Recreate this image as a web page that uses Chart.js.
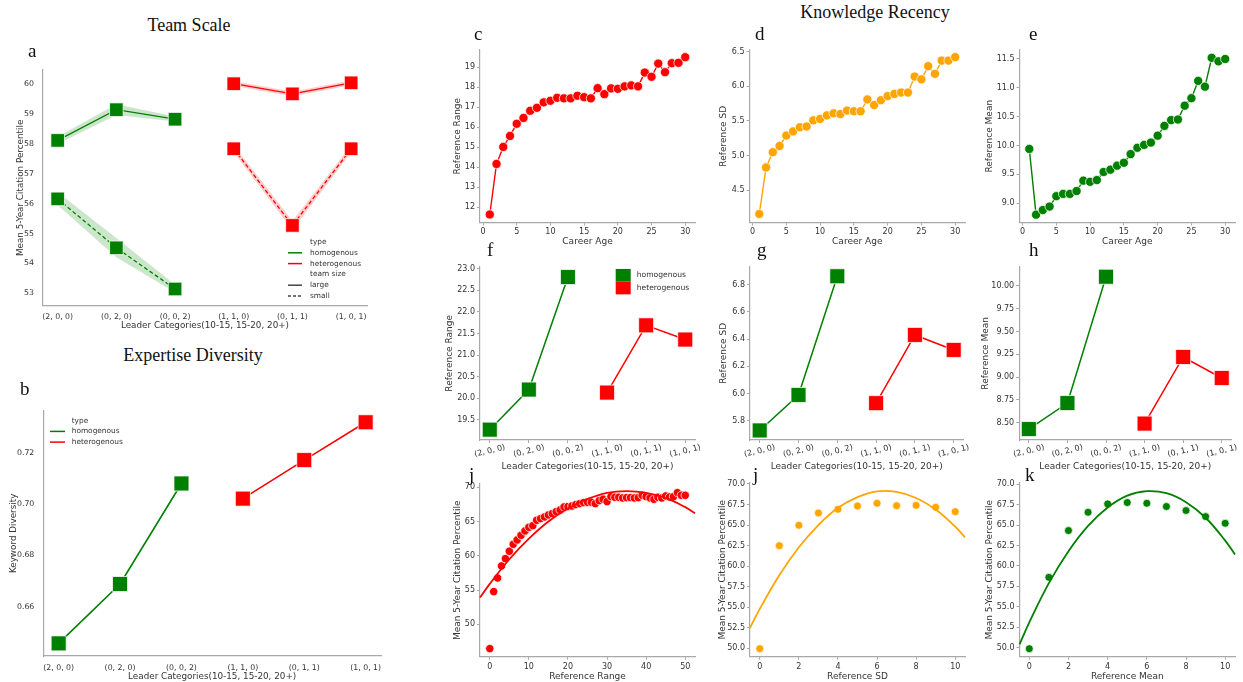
<!DOCTYPE html>
<html>
<head>
<meta charset="utf-8">
<script src="https://cdn.jsdelivr.net/npm/chart.js@4.4.1/dist/chart.umd.min.js"></script>
<style>
  html, body { margin: 0; padding: 0; background: #fff; width: 1243px; height: 682px; overflow: hidden; }
  #page { position: relative; width: 1243px; height: 682px; }
  canvas { position: absolute; }
  .head { position: absolute; font-family: 'Liberation Serif', 'DejaVu Serif', serif; font-size: 18px; line-height: 18px; color: #111; white-space: nowrap; }
  .tag { position: absolute; font-family: 'Liberation Serif', 'DejaVu Serif', serif; font-size: 19px; line-height: 19px; color: #111; }
</style>
</head>
<body>
<div id="page"></div>
<script>
// ---------------- data ----------------
const leaderCats = ['(2, 0, 0)', '(0, 2, 0)', '(0, 0, 2)', '(1, 1, 0)', '(0, 1, 1)', '(1, 0, 1)'];
const homX = [0, 1, 2];
const hetX = [3, 4, 5];

// a: team scale
const aHomLarge = [58.12, 59.15, 58.83];
const aHomLargeLo = [58.00, 58.97, 58.75];
const aHomLargeHi = [58.24, 59.33, 58.92];
const aHomSmall = [56.16, 54.52, 53.14];
const aHomSmallLo = [55.95, 54.20, 53.02];
const aHomSmallHi = [56.38, 54.85, 53.28];
const aHetLarge = [60.02, 59.68, 60.05];
const aHetLargeLo = [59.94, 59.60, 59.97];
const aHetLargeHi = [60.10, 59.76, 60.13];
const aHetSmall = [57.84, 55.27, 57.84];
const aHetSmallLo = [57.72, 55.12, 57.72];
const aHetSmallHi = [57.96, 55.42, 57.96];

// b: expertise diversity
const bHom = [0.6458, 0.6689, 0.7080];
const bHet = [0.7021, 0.7171, 0.7318];

// c, d, e: knowledge recency by career age
const careerAge = [1, 2, 3, 4, 5, 6, 7, 8, 9, 10, 11, 12, 13, 14, 15, 16, 17, 18, 19, 20, 21, 22, 23, 24, 25, 26, 27, 28, 29, 30];
const cRange = [11.63, 14.16, 15.01, 15.56, 16.17, 16.46, 16.82, 16.97, 17.24, 17.32, 17.47, 17.44, 17.44, 17.57, 17.50, 17.44, 17.95, 17.65, 17.94, 17.92, 18.04, 18.09, 18.04, 18.73, 18.52, 19.18, 18.75, 19.20, 19.22, 19.50];
const dSD = [4.16, 4.83, 5.05, 5.14, 5.29, 5.35, 5.41, 5.42, 5.51, 5.53, 5.58, 5.61, 5.60, 5.65, 5.64, 5.64, 5.81, 5.73, 5.80, 5.86, 5.89, 5.91, 5.91, 6.14, 6.10, 6.29, 6.18, 6.37, 6.37, 6.42];
const eMean = [9.94, 8.80, 8.88, 8.94, 9.12, 9.16, 9.16, 9.21, 9.39, 9.37, 9.40, 9.54, 9.58, 9.65, 9.70, 9.85, 9.96, 10.01, 10.05, 10.17, 10.34, 10.44, 10.45, 10.69, 10.82, 11.12, 11.02, 11.52, 11.46, 11.50];

// f, g, h: reference stats by leader category
const fHom = [19.27, 20.20, 22.81];
const fHet = [20.13, 21.69, 21.36];
const gHom = [5.73, 5.99, 6.86];
const gHet = [5.93, 6.43, 6.32];
const hHom = [8.43, 8.715, 10.10];
const hHet = [8.49, 9.22, 8.99];

// i, j, k: citation percentile vs reference stats
const iRange = [0, 1, 2, 3, 4, 5, 6, 7, 8, 9, 10, 11, 12, 13, 14, 15, 16, 17, 18, 19, 20, 21, 22, 23, 24, 25, 26, 27, 28, 29, 30, 31, 32, 33, 34, 35, 36, 37, 38, 39, 40, 41, 42, 43, 44, 45, 46, 47, 48, 49, 50];
const iCite = [46.45, 54.77, 56.76, 58.52, 59.59, 60.66, 61.68, 62.31, 62.99, 63.63, 64.16, 64.40, 65.18, 65.43, 65.67, 65.96, 66.16, 66.45, 66.69, 67.13, 67.18, 67.27, 67.47, 67.62, 67.76, 67.81, 67.81, 67.62, 68.05, 68.25, 67.91, 68.64, 68.54, 68.54, 68.44, 68.49, 68.49, 68.44, 68.49, 68.83, 68.64, 68.44, 68.25, 68.54, 68.44, 68.73, 68.59, 68.64, 69.22, 68.83, 68.83];
const iFitX = [-2.5, 0, 5, 10, 15, 20, 25, 30, 35, 40, 45, 50, 52.5];
const iFitY = [53.9, 55.9, 59.5, 62.5, 65.0, 66.9, 68.3, 69.2, 69.45, 69.2, 68.45, 67.1, 66.2];
const sdX = [0, 1, 2, 3, 4, 5, 6, 7, 8, 9, 10];
const jCite = [49.96, 62.49, 64.97, 66.47, 66.92, 67.32, 67.65, 67.36, 67.40, 67.16, 66.63];
const jFitX = [-0.5, 0, 1, 2, 3, 4, 5, 6, 7, 8, 9, 10, 10.5];
const jFitY = [52.5, 54.8, 58.9, 62.3, 65.0, 67.1, 68.4, 69.1, 69.05, 68.3, 66.9, 64.8, 63.5];
const kCite = [49.88, 58.61, 64.33, 66.57, 67.59, 67.76, 67.67, 67.27, 66.78, 66.04, 65.22];
const kFitY = [50.4, 53.1, 57.9, 61.8, 64.9, 67.15, 68.6, 69.15, 68.9, 67.8, 65.9, 63.1, 61.4];

// ---------------- style ----------------
const TXT = '#333';
const SPINE = '#a8a8a8';
const GREEN = '#008000';
const RED = '#ff0000';
const ORANGE = '#ffa500';
Chart.defaults.font.family = "'DejaVu Sans', sans-serif";
Chart.defaults.color = TXT;

const page = document.getElementById('page');

function pts(xs, ys) { return xs.map((x, i) => ({ x: x, y: ys[i] })); }

function lineSeries(xs, ys, color, o) {
  o = o || {};
  return {
    data: pts(xs, ys), borderColor: color, borderWidth: o.lw || 1.4, borderDash: o.dash || [],
    pointStyle: o.style || 'circle', pointRadius: o.r || 0,
    pointBackgroundColor: o.fill || color, pointBorderColor: 'rgba(255,255,255,0.75)', pointBorderWidth: 1,
    showLine: o.noLine ? false : true, fill: false, tension: o.tension || 0, clip: false
  };
}

function band(xs, lo, hi, color) {
  return [
    { data: pts(xs, lo), borderColor: 'rgba(0,0,0,0)', borderWidth: 0, pointRadius: 0, fill: false, clip: false },
    { data: pts(xs, hi), borderColor: 'rgba(0,0,0,0)', borderWidth: 0, pointRadius: 0, fill: '-1', backgroundColor: color, clip: false }
  ];
}

// legend drawn inside the plot area
const inlineLegend = {
  id: 'inlineLegend',
  afterDraw(chart, args, o) {
    if (!o.items) return;
    const ctx = chart.ctx;
    ctx.save();
    ctx.font = o.size + "px 'DejaVu Sans'";
    ctx.textBaseline = 'middle';
    o.items.forEach((it, i) => {
      const x = o.x - o.ox, y = o.y - o.oy + i * o.dy;
      if (it.kind === 'line') {
        ctx.strokeStyle = it.color; ctx.lineWidth = 1.5;
        ctx.setLineDash(it.dash || []);
        ctx.beginPath(); ctx.moveTo(x - o.gap - o.sw, y); ctx.lineTo(x - o.gap, y); ctx.stroke();
        ctx.setLineDash([]);
      } else if (it.kind === 'square') {
        ctx.fillStyle = it.color;
        ctx.fillRect(x - o.gap - o.sw / 2, y - o.sh / 2, o.sw, o.sh);
      }
      ctx.fillStyle = TXT;
      ctx.fillText(it.text, x, y);
    });
    ctx.restore();
  }
};

// slanted category labels under f, g, h
const tiltLabels = {
  id: 'tiltLabels',
  afterDraw(chart, args, o) {
    if (!o.labels) return;
    const ctx = chart.ctx, xs = chart.scales.x, bottom = chart.chartArea.bottom;
    ctx.save();
    ctx.font = o.size + "px 'DejaVu Sans'";
    ctx.fillStyle = TXT; ctx.textAlign = 'center'; ctx.textBaseline = 'middle';
    o.labels.forEach((lab, i) => {
      ctx.save();
      ctx.translate(xs.getPixelForValue(i), bottom + o.offset);
      ctx.rotate(-o.angle * Math.PI / 180);
      ctx.fillText(lab, 0, 0);
      ctx.restore();
    });
    ctx.restore();
  }
};
Chart.register(inlineLegend, tiltLabels);

function makeChart(p) {
  const [L, T, W, H] = p.box;
  const [l, t, r, b] = p.area;
  const lh = p.titleSize * 1.2;
  const padL = p.ytx - L - lh / 2;
  const padB = (T + H) - p.xty - lh / 2;
  const yW = l - L - padL;
  const xH = (T + H) - padB - b;
  const cv = document.createElement('canvas');
  cv.width = W; cv.height = H;
  cv.style.left = L + 'px'; cv.style.top = T + 'px';
  page.appendChild(cv);
  const axis = (a, title, fitPx) => ({
    type: 'linear', min: a.min, max: a.max,
    border: { display: true, color: SPINE, width: 1.2 },
    grid: { display: p.tickMarks, drawOnChartArea: false, drawTicks: true, tickLength: 3, color: SPINE },
    ticks: {
      display: a.show !== false, stepSize: a.step, includeBounds: false, autoSkip: false,
      maxRotation: 0, minRotation: 0, padding: a.pad, color: TXT, font: { size: p.tickSize },
      callback: a.fmt
    },
    title: { display: true, text: title, color: TXT, font: { size: p.titleSize }, padding: 0 },
    afterFit: s => { if (s.isHorizontal()) s.height = fitPx; else s.width = fitPx; }
  });
  const plugins = Object.assign({
    legend: { display: false }, tooltip: { enabled: false },
    filler: { drawTime: 'beforeDatasetsDraw', propagate: false },
    inlineLegend: {}, tiltLabels: {}
  }, p.plugins || {});
  if (plugins.inlineLegend.items) { plugins.inlineLegend.ox = L; plugins.inlineLegend.oy = T; }
  return new Chart(cv, {
    type: 'line',
    data: { datasets: p.datasets },
    options: {
      responsive: false, animation: false, events: [],
      layout: { padding: { left: padL, top: t - T, right: (L + W) - r, bottom: padB } },
      plugins: plugins,
      scales: { x: axis(p.x, p.xTitle, xH), y: axis(p.y, p.yTitle, yW) }
    }
  });
}

const catFmt = v => leaderCats[v] || '';
const fx = n => v => Number(v).toFixed(n);
const GBAND = 'rgba(0,128,0,0.2)';
const RBAND = 'rgba(255,0,0,0.2)';
const leaderTitle = 'Leader Categories(10-15, 15-20, 20+)';

// ---------- a ----------
makeChart({
  box: [0, 40, 400, 300], area: [43, 70, 367, 305.7], ytx: 20.7, xty: 325.3,
  titleSize: 8.8, tickSize: 7.8, tickMarks: false,
  x: { min: -0.25, max: 5.27, step: 1, pad: 4, fmt: catFmt },
  y: { min: 52.58, max: 60.48, step: 1, pad: 6, fmt: fx(0) },
  xTitle: leaderTitle, yTitle: 'Mean 5-Year Citation Percentile',
  datasets: [
    lineSeries(homX, aHomLarge, GREEN, { style: 'rect', r: 9.6, lw: 1.3 }),
    lineSeries(homX, aHomSmall, GREEN, { style: 'rect', r: 9.6, lw: 1.3, dash: [4, 2.5] }),
    lineSeries(hetX, aHetLarge, RED, { style: 'rect', r: 9.6, lw: 1.3 }),
    lineSeries(hetX, aHetSmall, RED, { style: 'rect', r: 9.6, lw: 1.3, dash: [4, 2.5] }),
    ...band(homX, aHomLargeLo, aHomLargeHi, GBAND),
    ...band(homX, aHomSmallLo, aHomSmallHi, GBAND),
    ...band(hetX, aHetLargeLo, aHetLargeHi, RBAND),
    ...band(hetX, aHetSmallLo, aHetSmallHi, RBAND)
  ],
  plugins: { inlineLegend: { x: 310, y: 242, dy: 10.8, size: 7.4, sw: 14, gap: 8, items: [
    { kind: 'head', text: 'type' },
    { kind: 'line', text: 'homogenous', color: GREEN },
    { kind: 'line', text: 'heterogenous', color: RED },
    { kind: 'head', text: 'team size' },
    { kind: 'line', text: 'large', color: '#444' },
    { kind: 'line', text: 'small', color: '#444', dash: [3, 2] }
  ] } }
});

// ---------- b ----------
makeChart({
  box: [0, 395, 400, 290], area: [43.3, 410.7, 381, 656], ytx: 14, xty: 677,
  titleSize: 8.8, tickSize: 7.8, tickMarks: false,
  x: { min: -0.25, max: 5.25, step: 1, pad: 4, fmt: catFmt },
  y: { min: 0.6409, max: 0.7363, step: 0.02, pad: 6, fmt: fx(2) },
  xTitle: leaderTitle, yTitle: 'Keyword Diversity',
  datasets: [
    lineSeries(homX, bHom, GREEN, { style: 'rect', r: 10.6, lw: 1.6 }),
    lineSeries(hetX, bHet, RED, { style: 'rect', r: 10.6, lw: 1.6 })
  ],
  plugins: { inlineLegend: { x: 71.7, y: 420.7, dy: 10.7, size: 7.4, sw: 15, gap: 6.7, items: [
    { kind: 'head', text: 'type' },
    { kind: 'line', text: 'homogenous', color: GREEN },
    { kind: 'line', text: 'heterogenous', color: RED }
  ] } }
});

// ---------- c, d, e ----------
const ageAxis = { min: -0.45, max: 31.45, step: 5, pad: 2, fmt: fx(0) };
makeChart({
  box: [440, 28, 270, 222], area: [480, 50, 695, 222.5], ytx: 457.3, xty: 241.7,
  titleSize: 9, tickSize: 8, tickMarks: true,
  x: ageAxis, y: { min: 11.23, max: 19.86, step: 1, pad: 2, fmt: fx(0) },
  xTitle: 'Career Age', yTitle: 'Reference Range',
  datasets: [lineSeries(careerAge, cRange, RED, { r: 4.6, lw: 1.4 })]
});
makeChart({
  box: [715, 28, 260, 222], area: [749.5, 50, 965, 222.5], ytx: 724, xty: 241.7,
  titleSize: 9, tickSize: 8, tickMarks: true,
  x: ageAxis, y: { min: 4.037, max: 6.523, step: 0.5, pad: 2, fmt: fx(1) },
  xTitle: 'Career Age', yTitle: 'Reference SD',
  datasets: [lineSeries(careerAge, dSD, ORANGE, { r: 4.6, lw: 1.4 })]
});
makeChart({
  box: [978, 28, 265, 222], area: [1019.5, 50, 1235, 222.5], ytx: 989.3, xty: 241.7,
  titleSize: 9, tickSize: 8, tickMarks: true,
  x: ageAxis, y: { min: 8.664, max: 11.656, step: 0.5, pad: 2, fmt: fx(1) },
  xTitle: 'Career Age', yTitle: 'Reference Mean',
  datasets: [lineSeries(careerAge, eMean, GREEN, { r: 4.6, lw: 1.4 })]
});

// ---------- f, g, h ----------
const catAxis = { min: -0.25, max: 5.25, step: 1, pad: 2, show: false };
const tilt = { labels: leaderCats, angle: 14, offset: 11, size: 8 };
function catPanel(box, area, ytx, yAxis, yTitle, hom, het, extra) {
  return makeChart({
    box: box, area: area, ytx: ytx, xty: 466.7, titleSize: 9, tickSize: 8, tickMarks: true,
    x: catAxis, y: yAxis, xTitle: leaderTitle, yTitle: yTitle,
    datasets: [
      lineSeries(homX, hom, GREEN, { style: 'rect', r: 10.6, lw: 1.5 }),
      lineSeries(hetX, het, RED, { style: 'rect', r: 10.6, lw: 1.5 })
    ],
    plugins: Object.assign({ tiltLabels: tilt }, extra || {})
  });
}
catPanel([440, 255, 270, 220], [480, 266.7, 695, 440], 450,
  { min: 19.03, max: 23.05, step: 0.5, pad: 2, fmt: fx(1) }, 'Reference Range', fHom, fHet,
  { inlineLegend: { x: 636.7, y: 275.3, dy: 12.7, size: 7.6, sw: 15, sh: 12.7, gap: 13.5, items: [
    { kind: 'square', text: 'homogenous', color: GREEN },
    { kind: 'square', text: 'heterogenous', color: RED }
  ] } });
catPanel([715, 255, 260, 220], [750, 266.7, 966, 440], 724,
  { min: 5.66, max: 6.93, step: 0.2, pad: 2, fmt: fx(1) }, 'Reference SD', gHom, gHet);
catPanel([975, 255, 268, 220], [1019.2, 266.7, 1234.8, 440], 986,
  { min: 8.31, max: 10.21, step: 0.25, pad: 2, fmt: fx(2) }, 'Reference Mean', hHom, hHet);

// ---------- i, j, k ----------
makeChart({
  box: [440, 470, 270, 215], area: [480, 484, 695, 656.7], ytx: 457.3, xty: 676.7,
  titleSize: 9, tickSize: 8, tickMarks: true,
  x: { min: -2.5, max: 52.5, step: 10, pad: 2, fmt: fx(0) },
  y: { min: 45.27, max: 70.48, step: 5, pad: 2, fmt: fx(0) },
  xTitle: 'Reference Range', yTitle: 'Mean 5-Year Citation Percentile',
  datasets: [
    lineSeries(iFitX, iFitY, RED, { lw: 1.8, tension: 0.4 }),
    lineSeries(iRange, iCite, RED, { r: 4.2, noLine: true })
  ]
});
makeChart({
  box: [712, 470, 263, 215], area: [750, 483, 965, 656.7], ytx: 722.5, xty: 676.7,
  titleSize: 9, tickSize: 8, tickMarks: true,
  x: { min: -0.5, max: 10.5, step: 2, pad: 2, fmt: fx(0) },
  y: { min: 48.98, max: 70.12, step: 2.5, pad: 2, fmt: fx(1) },
  xTitle: 'Reference SD', yTitle: 'Mean 5-Year Citation Percentile',
  datasets: [
    lineSeries(jFitX, jFitY, ORANGE, { lw: 1.8, tension: 0.4 }),
    lineSeries(sdX, jCite, ORANGE, { r: 4, noLine: true })
  ]
});
makeChart({
  box: [978, 470, 265, 215], area: [1019.5, 483, 1235, 656.7], ytx: 989.3, xty: 676.7,
  titleSize: 9, tickSize: 8, tickMarks: true,
  x: { min: -0.5, max: 10.5, step: 2, pad: 2, fmt: fx(0) },
  y: { min: 48.9, max: 70.15, step: 2.5, pad: 2, fmt: fx(1) },
  xTitle: 'Reference Mean', yTitle: 'Mean 5-Year Citation Percentile',
  datasets: [
    lineSeries(jFitX, kFitY, GREEN, { lw: 1.8, tension: 0.4 }),
    lineSeries(sdX, kCite, GREEN, { r: 4, noLine: true })
  ]
});

// ---------- headings and panel letters ----------
const heads = [
  ['Team Scale', 189, 16],
  ['Expertise Diversity', 193, 346],
  ['Knowledge Recency', 875, 3]
];
heads.forEach(([text, cx, top]) => {
  const d = document.createElement('div');
  d.className = 'head'; d.textContent = text;
  d.style.top = top + 'px'; d.style.left = cx + 'px'; d.style.transform = 'translateX(-50%)';
  page.appendChild(d);
});
const tags = [
  ['a', 28, 41], ['b', 20, 379], ['c', 474, 24], ['d', 755, 24], ['e', 1029, 24],
  ['f', 487, 240], ['g', 757, 240], ['h', 1029, 240], ['j', 469, 465], ['j', 753, 465], ['k', 1025, 465]
];
tags.forEach(([text, left, top]) => {
  const d = document.createElement('div');
  d.className = 'tag'; d.textContent = text;
  d.style.left = left + 'px'; d.style.top = top + 'px';
  page.appendChild(d);
});
</script>
</body>
</html>
